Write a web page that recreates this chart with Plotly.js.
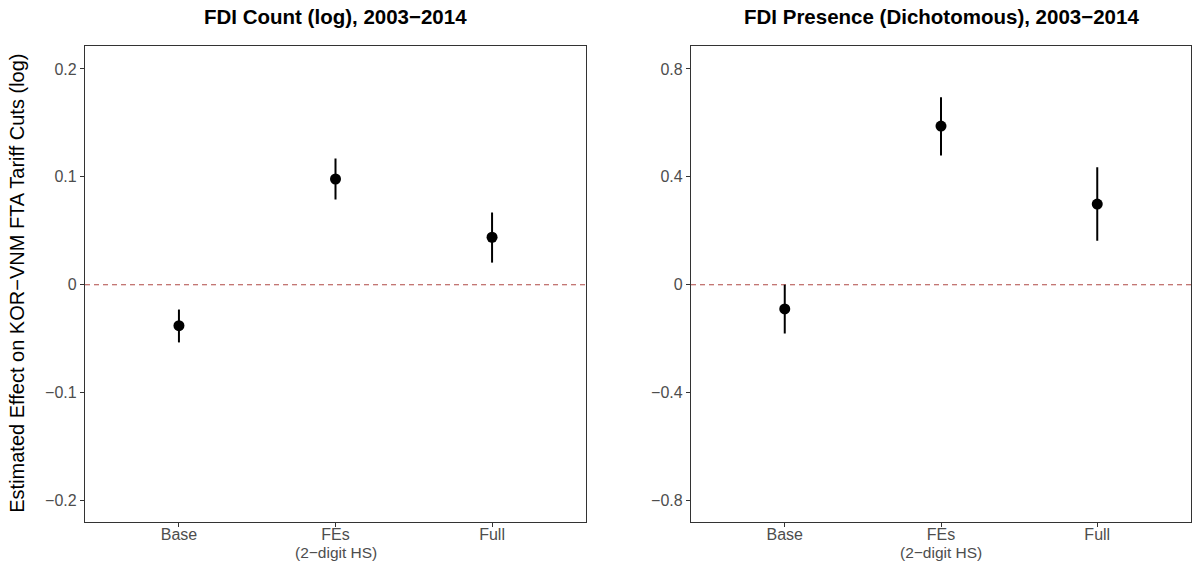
<!DOCTYPE html>
<html>
<head>
<meta charset="utf-8">
<script src="https://cdn.plot.ly/plotly-3.0.1.min.js"></script>
<style>html,body{margin:0;padding:0;background:#fff;}#chart{width:1192px;height:561px;}</style>
</head>
<body>
<div id="chart"></div>
<script>
// ---- data ----
const categories = ['Base', 'FEs', 'Full'];
const subLabels = ['', '(2\u2212digit HS)', ''];
const countEst = [-0.038, 0.098, 0.044];
const countLo  = [-0.0535, 0.079, 0.0205];
const countHi  = [-0.023, 0.117, 0.067];
const presEst = [-0.090, 0.588, 0.299];
const presLo  = [-0.181, 0.479, 0.1625];
const presHi  = [0.000, 0.695, 0.435];
const panelTitles = ['FDI Count (log), 2003\u22122014', 'FDI Presence (Dichotomous), 2003\u22122014'];
const yTitle = 'Estimated Effect on KOR\u2212VNM FTA Tariff Cuts (log)';
const countTicks = [-0.2, -0.1, 0, 0.1, 0.2];
const presTicks = [-0.8, -0.4, 0, 0.4, 0.8];

const W = 1192, H = 561;
const FONT = 'Liberation Sans, Arial, Helvetica, sans-serif';

function trace(est, lo, hi, xa, ya) {
  return {
    type: 'scatter', mode: 'markers', x: categories, y: est, xaxis: xa, yaxis: ya,
    marker: {color: '#000', size: 11},
    error_y: {type: 'data', symmetric: false,
      array: hi.map((h, i) => h - est[i]),
      arrayminus: lo.map((l, i) => est[i] - l),
      color: '#000', thickness: 2, width: 0},
    showlegend: false, hoverinfo: 'x+y'
  };
}

function fmt(v) { return v === 0 ? '0' : String(v).replace('-', '\u2212'); }

const axisCommon = {
  showline: true, mirror: true, linecolor: '#333333', linewidth: 1.1,
  showgrid: false, zeroline: false,
  ticks: 'outside', ticklen: 4, tickcolor: '#333333', tickwidth: 1,
  tickfont: {family: FONT, size: 16, color: '#4D4D4D'}
};
const xCommon = Object.assign({}, axisCommon, {type: 'category', range: [-0.6, 2.6], ticklabelstandoff: -6});
const yDom = [(H - 521.5) / H, (H - 46) / H];

const subAnn = [];
['x', 'x2'].forEach(xr => {
  categories.forEach((c, i) => {
    if (subLabels[i]) subAnn.push({text: subLabels[i], xref: xr, yref: 'paper', x: c, y: (H - 552) / H,
      xanchor: 'center', yanchor: 'middle', showarrow: false, font: {family: FONT, size: 15.5, color: '#4D4D4D'}});
  });
});

const layout = {
  width: W, height: H,
  margin: {l: 0, r: 0, t: 0, b: 0},
  paper_bgcolor: '#fff', plot_bgcolor: '#fff',
  font: {family: FONT},
  xaxis: Object.assign({}, xCommon, {domain: [85 / W, 586 / W], anchor: 'y'}),
  yaxis: Object.assign({}, axisCommon, {domain: yDom, range: [-0.2195, 0.2213], tickvals: countTicks, ticktext: countTicks.map(fmt), anchor: 'x'}),
  xaxis2: Object.assign({}, xCommon, {domain: [691 / W, 1191 / W], anchor: 'y2'}),
  yaxis2: Object.assign({}, axisCommon, {domain: yDom, range: [-0.878, 0.885], tickvals: presTicks, ticktext: presTicks.map(fmt), anchor: 'x2'}),
  shapes: [
    {type: 'line', xref: 'x domain', yref: 'y', x0: 0, x1: 1, y0: 0, y1: 0,
     line: {color: '#B04A45', width: 1.1, dash: '5px,4px'}, layer: 'below'},
    {type: 'line', xref: 'x2 domain', yref: 'y2', x0: 0, x1: 1, y0: 0, y1: 0,
     line: {color: '#B04A45', width: 1.1, dash: '5px,4px'}, layer: 'below'}
  ],
  annotations: [
    {text: '<b>' + panelTitles[0] + '</b>', xref: 'paper', yref: 'paper', x: 335.5 / W, y: (H - 17) / H,
     xanchor: 'center', yanchor: 'middle', showarrow: false, font: {family: FONT, size: 20.5, color: '#000'}},
    {text: '<b>' + panelTitles[1] + '</b>', xref: 'paper', yref: 'paper', x: 941 / W, y: (H - 17) / H,
     xanchor: 'center', yanchor: 'middle', showarrow: false, font: {family: FONT, size: 20.5, color: '#000'}},
    {text: yTitle, xref: 'paper', yref: 'paper', x: 17 / W, y: (H - 283.75) / H, textangle: -90,
     xanchor: 'center', yanchor: 'middle', showarrow: false, font: {family: FONT, size: 20, color: '#000'}}
  ].concat(subAnn)
};

Plotly.newPlot('chart', [
  trace(countEst, countLo, countHi, 'x', 'y'),
  trace(presEst, presLo, presHi, 'x2', 'y2')
], layout, {displayModeBar: false, staticPlot: true});
</script>
</body>
</html>
